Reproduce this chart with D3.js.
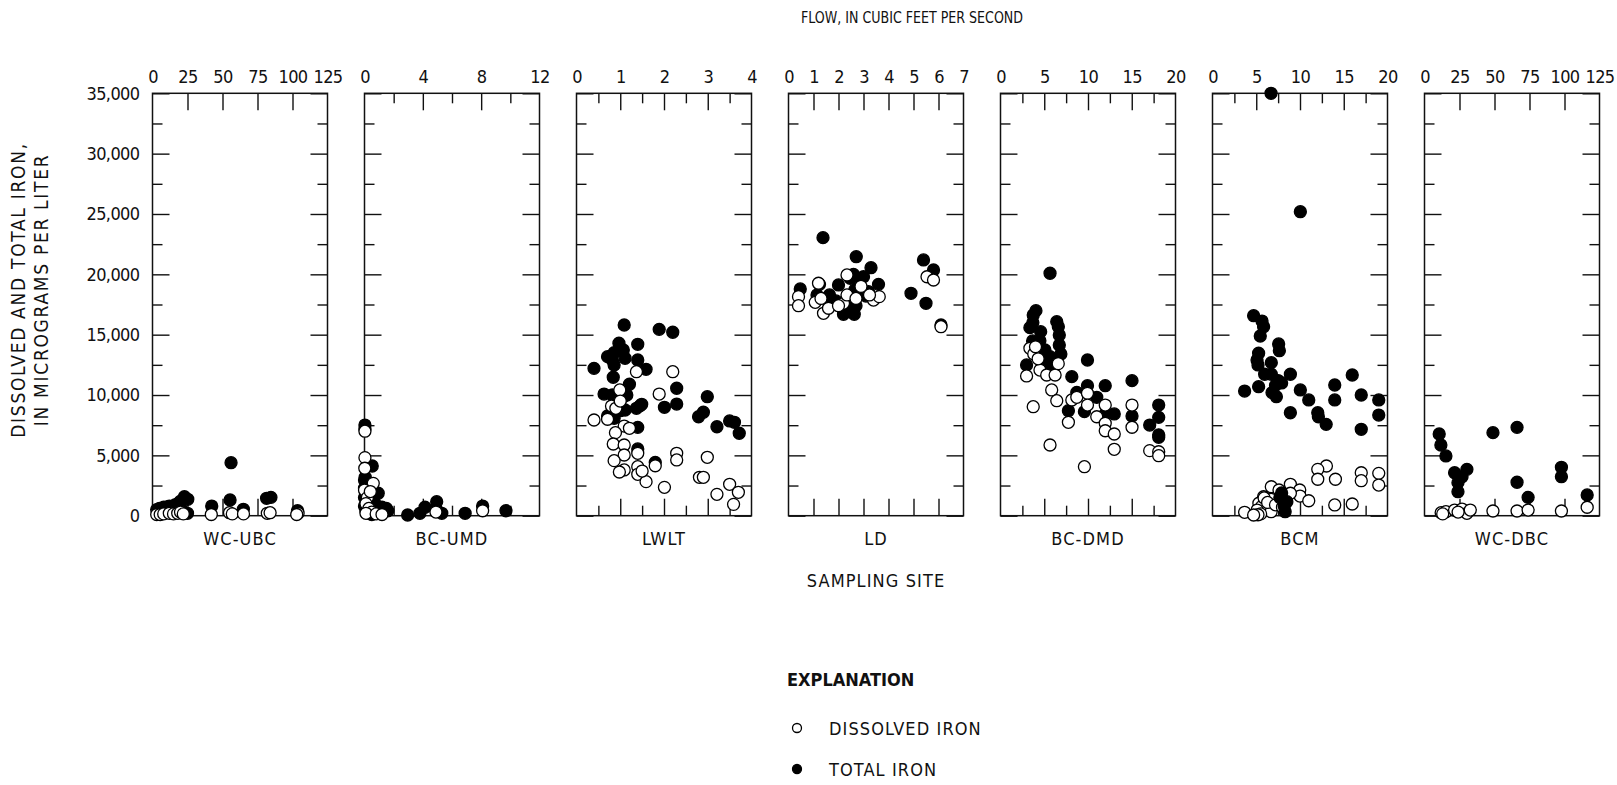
<!DOCTYPE html>
<meta charset="utf-8">
<style>
  body { margin: 0; background: #fff; }
  svg { display: block; }
  text {
    font-family: "DejaVu Sans Condensed", "Liberation Sans Narrow", "Arial Narrow", sans-serif;
    font-stretch: condensed;
    fill: #111;
  }
  .frame { fill: none; stroke: #111; stroke-width: 1.5px; }
  .tick line { stroke: #111; stroke-width: 1.4px; }
  .domain { display: none; }
  .tick text { font-size: 18px; letter-spacing: -0.6px; fill: #111; }
  .label { font-size: 18px; letter-spacing: 1.1px; }
  .ytitle { font-size: 19px; letter-spacing: 1.7px; }
  .title { font-size: 16px; }
  .head { font-size: 18px; font-weight: bold; }
  .dissolved { fill: #fff; stroke: #000; stroke-width: 1.3px; }
  .total { fill: #000; stroke: #000; stroke-width: 1.3px; }
</style>
<svg width="1617" height="785"></svg>
<script src="https://d3js.org/d3.v7.min.js"></script>
<script>

  // sampling sites, left to right
  var sites = ["WC-UBC", "BC-UMD", "LWLT", "LD", "BC-DMD", "BCM", "WC-DBC"];

  // flow axis for each site
  var flowMax = [125, 12, 4, 7, 20, 20, 125];
  var flowLabels = [
    [0, 25, 50, 75, 100, 125],
    [0, 4, 8, 12],
    [0, 1, 2, 3, 4],
    [0, 1, 2, 3, 4, 5, 6, 7],
    [0, 5, 10, 15, 20],
    [0, 5, 10, 15, 20],
    [0, 25, 50, 75, 100, 125]
  ];
  var flowMajor = [
    [25, 50, 75, 100],
    [4, 8],
    [1, 2, 3],
    [1, 2, 3, 4, 5, 6],
    [5, 10, 15],
    [5, 10, 15],
    [25, 50, 75, 100]
  ];
  var flowMinor = [
    [],
    [2, 6, 10],
    [0.5, 1.5, 2.5, 3.5],
    [],
    [2.5, 7.5, 12.5, 17.5],
    [2.5, 7.5, 12.5, 17.5],
    []
  ];

  // iron axis
  var ironLabels = [0, 5000, 10000, 15000, 20000, 25000, 30000, 35000];
  var ironMinor = [2500, 7500, 12500, 17500, 22500, 27500, 32500];

  // [flow, iron] pairs
  var wcubcDissolved = [[3,100],[5.5,100],[8,150],[12,200],[15,150],[18,200],[20,300],[22,150],[42,100],[55,250],[57,150],[65,150],[82,200],[84,250],[104,200],[103,100]];
  var wcubcTotal = [[3,500],[5,610],[8,700],[10,700],[12,800],[15,700],[16,900],[18.5,1030],[21,470],[22.8,1570],[25.2,1360],[25,200],[20,1200],[42.3,800],[55.4,1300],[56.1,4390],[64.9,530],[81.5,1440],[84.6,1520],[103.6,410]];

  var bcumdDissolved = [[0.03,4810],[0.02,3930],[0.6,2680],[0,2130],[0.2,1500],[0.1,1000],[0.3,600],[0.5,300],[0.1,200],[0.8,150],[1.2,100],[0.03,7000],[8.1,410],[4.9,300],[0.4,2000]];
  var bcumdTotal = [[0.03,7510],[0.03,7200],[0.53,4120],[0,2960],[0.05,3200],[0,2270],[0.94,1860],[0.27,1300],[0.7,1030],[1.2,700],[1.5,600],[1.6,400],[0,800],[0.1,400],[0.3,200],[2.96,60],[3.8,200],[4.15,700],[4.95,1160],[4.9,610],[5.3,200],[6.9,200],[8.1,800],[9.7,410],[0.5,100],[1,300],[0,1500]];

  var lwltDissolved = [[1.37,11930],[2.2,11930],[1.89,10080],[0.99,10420],[0.8,9090],[0.9,8900],[0.4,7930],[0.71,7990],[1.09,7430],[1.21,7240],[0.89,6880],[0.84,5940],[1.09,5860],[1.09,5030],[1.4,5170],[2.29,5170],[2.29,4620],[2.99,4840],[0.86,4560],[1.09,3790],[0.98,3620],[1.4,4060],[1.4,3430],[1.59,2820],[1.8,4140],[2.01,2350],[2.81,3180],[2.9,3180],[3.5,2600],[3.7,1940],[3.21,1770],[3.59,940],[1.5,3700],[1,9500]];
  var lwltTotal = [[1.09,15800],[1.89,15440],[2.2,15200],[0.97,14290],[1.4,14200],[1.07,13730],[0.86,13500],[0.71,13180],[0.82,12900],[1.11,13040],[1.4,12900],[0.86,12490],[0.4,12210],[1.59,12130],[0.84,11470],[1.21,10890],[2.29,10560],[0.63,10080],[0.82,10000],[1.07,9860],[0.95,9590],[2.99,9860],[1.49,9230],[1.37,8900],[1.11,8760],[2.01,8980],[2.29,9250],[2.9,8570],[2.79,8200],[0.71,8260],[0.86,8070],[3.5,7850],[3.61,7740],[3.21,7370],[1.4,7320],[3.72,6830],[1.4,5530],[1.8,4420],[1,8700],[1.15,10000],[1.05,9900],[1.45,9100]];

  var ldDissolved = [[0.4,18150],[0.4,17400],[1.07,17680],[1.2,19260],[1.4,16770],[1.6,17190],[2.2,17600],[2.34,18290],[2.34,19950],[3.4,17870],[3.63,18150],[3.24,18290],[5.54,19800],[5.8,19530],[6.1,15660],[1.3,18000],[2,17400],[2.7,18000],[2.9,19000]];
  var ldTotal = [[1.38,23040],[2.71,21460],[5.4,21190],[3.3,20550],[5.8,20360],[0.47,18790],[1.24,19170],[1.14,18290],[1.64,18290],[2,19120],[2.47,19670],[2.6,20000],[2.8,19500],[2.65,18700],[2.5,18000],[2.7,17400],[2.55,17000],[3.6,19170],[3.2,18560],[1.67,17600],[2.2,16690],[2.63,16690],[4.9,18430],[5.5,17600],[6.1,15800],[1.5,18000],[1.9,17800],[3,19800],[3.1,18200]];

  var bcdmdDissolved = [[3.36,13870],[3.8,13400],[2.98,11580],[4.51,12070],[5.28,11660],[6.24,11660],[5.85,10420],[6.43,9530],[3.74,9030],[8.15,9590],[8.72,9810],[9.94,10140],[9.94,9170],[7.76,7740],[11,8200],[11.97,9170],[11.97,7660],[11.97,7040],[13,6770],[13,5500],[15.03,9170],[15.03,7330],[5.66,5860],[9.59,4060],[17.05,5390],[18.08,5300],[18.08,4970],[4,14000],[6.6,12600],[4.3,13000]];
  var bcdmdTotal = [[5.66,20090],[4.05,16990],[3.74,16630],[3.7,16000],[3.36,15580],[4.59,15250],[3.67,14480],[6.43,16080],[6.61,15660],[6.72,14970],[6.72,14140],[5.08,13730],[5.66,13180],[6,12800],[6.4,12600],[5.3,12600],[5.8,12500],[2.98,12490],[9.94,12900],[8.15,11520],[9.94,10770],[11.97,10770],[15.03,11190],[8.72,10220],[11,9810],[7.76,8700],[9.59,8620],[11.97,8430],[13,8430],[15.03,8260],[18.08,9170],[18.08,8150],[17.05,7510],[18.08,6700],[18.08,6500],[4.5,14500],[6.9,13400]];

  var bcmDissolved = [[13.02,4120],[12.03,3840],[12.03,3020],[14.05,3020],[17,3560],[17,2900],[19,3510],[19,2540],[8.9,2600],[9.97,2130],[6.72,2400],[7.6,2130],[10,1630],[11,1240],[5.84,1570],[6.7,1360],[5.3,1030],[5.6,750],[5.1,470],[3.67,280],[6.7,330],[5.5,150],[5.2,80],[4.7,60],[13.97,890],[15.97,970],[8.9,1860],[7.8,1600],[5.9,1470],[6.3,1100],[7.2,900],[8,700]];
  var bcmTotal = [[6.69,35000],[10.04,25190],[4.7,16570],[5.66,16130],[5.84,15660],[5.46,14890],[7.56,14230],[7.64,13670],[5.27,13460],[5.09,12900],[6.72,12680],[5.2,12490],[5.96,11720],[6.72,11720],[8.9,11720],[15.97,11660],[7.5,11200],[7.9,11000],[7.2,10800],[3.67,10330],[5.27,10690],[7.3,9860],[6.8,10200],[13.97,10830],[10.04,10420],[17,10000],[11,9590],[13.97,9590],[19,9590],[8.9,8530],[12.03,8530],[12.1,8200],[19,8340],[12.99,7570],[17,7160],[7.9,1880],[8.5,1160],[8.3,330],[7.7,1500],[8.2,800]];

  var wcdbcDissolved = [[11.9,250],[15.3,330],[21.5,470],[26.8,550],[30.3,200],[32.7,470],[48.9,390],[66.1,390],[74,470],[97.8,390],[116.2,700],[13,150],[24,300]];
  var wcdbcTotal = [[10.5,6770],[11.7,5860],[15.3,4950],[21.5,3560],[30.3,3840],[26.8,3230],[23.9,2740],[23.9,1990],[48.9,6880],[66.1,7320],[66.1,2770],[74,1520],[97.8,4010],[97.8,3230],[116.2,1720]];

  var dissolvedBySite = [wcubcDissolved, bcumdDissolved, lwltDissolved, ldDissolved, bcdmdDissolved, bcmDissolved, wcdbcDissolved];
  var totalBySite = [wcubcTotal, bcumdTotal, lwltTotal, ldTotal, bcdmdTotal, bcmTotal, wcdbcTotal];
  // at BCM the solid dots sit over the open ones
  var totalOnTop = ["BCM"];

  var svg = d3.select("svg"),
      left0 = 152.5,
      step = 212,
      panelW = 175,
      plotTop = 93.3,
      plotBottom = 515.7,
      panelH = plotBottom - plotTop,
      major = 17,
      minor = 10,
      r = 6;

  var y = d3.scaleLinear().domain([0, 35000]).range([panelH, 0]);

  sites.forEach(function(site, i) {
    var x = d3.scaleLinear().domain([0, flowMax[i]]).range([0, panelW]);
    var g = svg.append("g").attr("transform", "translate(" + (left0 + i * step) + "," + plotTop + ")");

    // flow tick labels above
    g.append("g")
        .call(d3.axisTop(x).tickValues(flowLabels[i]).tickSize(0).tickPadding(10).tickFormat(d3.format("d")));

    // inward ticks, top and bottom
    [[flowMajor[i], major], [flowMinor[i], minor]].forEach(function(t) {
      g.append("g")
          .call(d3.axisTop(x).tickValues(t[0]).tickSize(-t[1]).tickFormat(""));
      g.append("g")
          .attr("transform", "translate(0," + panelH + ")")
          .call(d3.axisBottom(x).tickValues(t[0]).tickSize(-t[1]).tickFormat(""));
    });

    // inward ticks, left and right
    [[ironLabels, major], [ironMinor, minor]].forEach(function(t) {
      g.append("g")
          .call(d3.axisLeft(y).tickValues(t[0]).tickSize(-t[1]).tickFormat(""));
      g.append("g")
          .attr("transform", "translate(" + panelW + ",0)")
          .call(d3.axisRight(y).tickValues(t[0]).tickSize(-t[1]).tickFormat(""));
    });

    if (i === 0) {
      g.append("g")
          .call(d3.axisLeft(y).tickValues(ironLabels).tickSize(0).tickPadding(13).tickFormat(d3.format(",")));
    }

    g.append("rect").attr("class", "frame").attr("width", panelW).attr("height", panelH);

    var layers = [["dissolved", dissolvedBySite[i]], ["total", totalBySite[i]]];
    if (totalOnTop.indexOf(site) < 0) layers.reverse();

    layers.forEach(function(l) {
      g.append("g").selectAll("circle")
          .data(l[1])
          .enter().append("circle")
          .attr("class", l[0])
          .attr("cx", function(d) { return x(d[0]); })
          .attr("cy", function(d) { return y(d[1]); })
          .attr("r", r);
    });

    g.append("text")
        .attr("class", "label")
        .attr("x", panelW / 2)
        .attr("y", panelH + 29)
        .attr("text-anchor", "middle")
        .text(site);
  });

  var g0 = svg.append("g");

  g0.append("text").attr("class", "title")
      .attr("x", 912).attr("y", 23)
      .attr("text-anchor", "middle")
      .attr("textLength", 222)
      .attr("lengthAdjust", "spacingAndGlyphs")
      .text("FLOW, IN CUBIC FEET PER SECOND");

  g0.append("text").attr("class", "label")
      .attr("x", 876).attr("y", 587)
      .attr("text-anchor", "middle")
      .text("SAMPLING SITE");

  g0.append("text").attr("class", "ytitle")
      .attr("transform", "translate(25,290) rotate(-90)")
      .attr("text-anchor", "middle")
      .text("DISSOLVED AND TOTAL IRON,");

  g0.append("text").attr("class", "ytitle")
      .attr("transform", "translate(48,290) rotate(-90)")
      .attr("text-anchor", "middle")
      .text("IN MICROGRAMS PER LITER");

  // explanation
  var legend = svg.append("g").attr("transform", "translate(787,0)");
  legend.append("text").attr("class", "head")
      .attr("y", 686)
      .text("EXPLANATION");

  var keys = ["dissolved", "total"],
      keyLabels = ["DISSOLVED IRON", "TOTAL IRON"];

  keys.forEach(function(k, j) {
    var cy = 728 + j * 41;
    legend.append("circle").attr("class", k).attr("cx", 10).attr("cy", cy).attr("r", 4.5);
    legend.append("text").attr("class", "label")
        .attr("x", 42).attr("y", cy + 7)
        .text(keyLabels[j]);
  });

</script>
